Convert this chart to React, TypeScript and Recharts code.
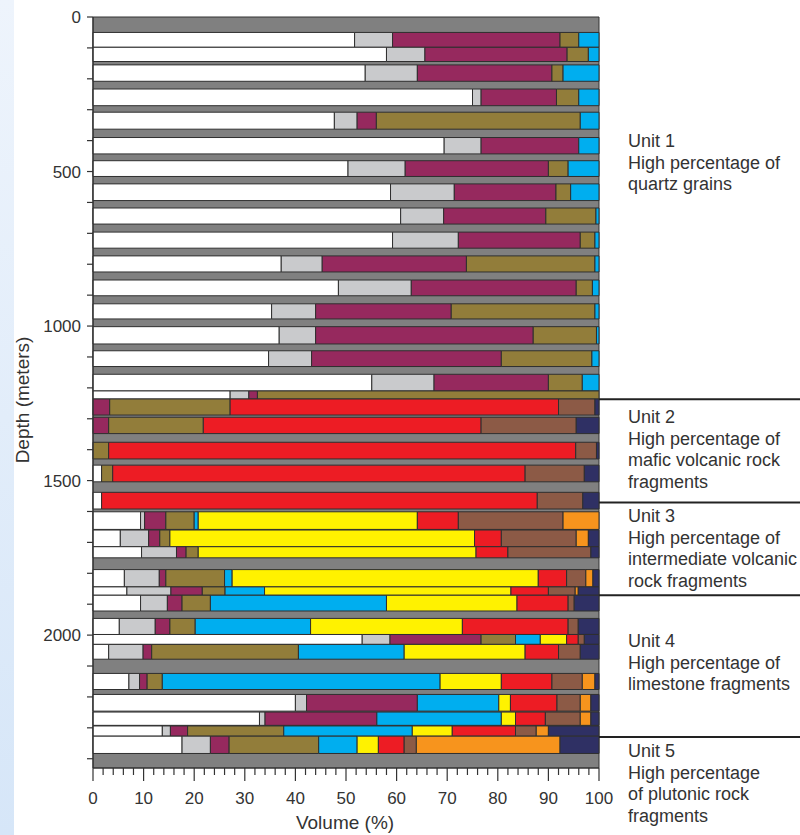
import { ComposedChart, XAxis, YAxis, ReferenceArea, ReferenceLine } from 'recharts';

// sample intervals (m), top to bottom
const DEPTH_TOP = [50, 98, 155, 233, 308, 390, 465, 540, 618, 696, 773, 851, 928, 1002, 1080, 1156, 1210, 1236, 1295, 1376, 1450, 1538, 1601, 1660, 1714, 1788, 1844, 1871, 1946, 1998, 2030, 2124, 2192, 2249, 2294, 2327];
const DEPTH_BOTTOM = [98, 144, 208, 287, 363, 443, 516, 594, 670, 748, 825, 902, 977, 1058, 1131, 1210, 1236, 1288, 1348, 1430, 1504, 1592, 1658, 1714, 1750, 1844, 1871, 1922, 1998, 2030, 2078, 2176, 2246, 2292, 2327, 2383];

// volume % of each component, one value per sample
const QUARTZ = [51.7, 58.0, 53.8, 75.0, 47.7, 69.4, 50.4, 58.8, 60.8, 59.2, 37.2, 48.5, 35.3, 36.8, 34.7, 55.1, 27.1, 0, 0, 0, 1.7, 1.7, 9.4, 5.4, 9.6, 6.2, 6.7, 9.4, 5.2, 53.2, 3.1, 7.1, 40.0, 32.9, 13.7, 17.6];
const LIGHT_GRAY = [7.5, 7.6, 10.3, 1.7, 4.5, 7.3, 11.3, 12.6, 8.5, 13.0, 8.1, 14.4, 8.7, 7.2, 8.5, 12.3, 3.7, 0, 0, 0, 0, 0, 0.8, 5.6, 6.9, 6.9, 8.7, 5.3, 7.1, 5.5, 6.8, 2.1, 2.2, 1.1, 1.6, 5.6];
const PLUM = [33.1, 28.1, 26.6, 14.9, 3.8, 19.3, 28.3, 20.1, 20.2, 24.1, 28.5, 32.6, 26.8, 43.0, 37.5, 22.6, 1.7, 3.3, 3.1, 0, 0, 0, 4.2, 2.2, 1.9, 1.3, 6.2, 2.9, 2.9, 18.0, 1.7, 1.5, 21.9, 22.1, 3.4, 3.7];
const OLIVE = [3.7, 4.2, 2.2, 4.4, 40.3, 0, 3.9, 2.9, 9.9, 2.9, 25.4, 3.2, 28.4, 12.5, 17.9, 6.7, 67.5, 23.8, 18.7, 3.1, 2.2, 0, 5.6, 2.0, 2.4, 11.6, 4.5, 5.6, 5.0, 6.8, 29.0, 3.0, 0, 0, 19.0, 17.7];
const LIMESTONE = [4.0, 2.1, 7.1, 4.0, 3.7, 4.0, 6.1, 5.6, 0.6, 0.8, 0.8, 1.3, 0.8, 0.5, 1.4, 3.3, 0, 0, 0, 0, 0, 0, 0.8, 0, 0, 1.5, 7.8, 34.8, 22.8, 4.9, 20.9, 54.9, 16.1, 24.6, 25.4, 7.6];
const INTERMEDIATE = [0, 0, 0, 0, 0, 0, 0, 0, 0, 0, 0, 0, 0, 0, 0, 0, 0, 0, 0, 0, 0, 0, 43.3, 60.2, 54.9, 60.5, 48.7, 25.8, 30.0, 5.2, 23.9, 12.1, 2.3, 2.8, 7.9, 4.2];
const MAFIC = [0, 0, 0, 0, 0, 0, 0, 0, 0, 0, 0, 0, 0, 0, 0, 0, 0, 64.9, 54.9, 92.3, 81.5, 86.1, 8.1, 5.3, 6.3, 5.6, 7.4, 10.1, 20.9, 2.3, 6.6, 10.0, 9.2, 5.9, 12.5, 5.1];
const BROWN = [0, 0, 0, 0, 0, 0, 0, 0, 0, 0, 0, 0, 0, 0, 0, 0, 0, 7.2, 18.8, 4.1, 11.7, 9.0, 20.7, 14.8, 16.4, 3.8, 5.3, 1.2, 2.0, 1.2, 4.3, 6.0, 4.6, 6.9, 4.1, 2.4];
const PLUTONIC = [0, 0, 0, 0, 0, 0, 0, 0, 0, 0, 0, 0, 0, 0, 0, 0, 0, 0, 0, 0, 0, 0, 7.1, 2.4, 0, 1.4, 0.6, 0, 0, 0, 0, 2.5, 2.1, 2.1, 2.4, 28.4];
const NAVY = [0, 0, 0, 0, 0, 0, 0, 0, 0, 0, 0, 0, 0, 0, 0, 0, 0, 0.8, 4.5, 0.5, 2.9, 3.2, 0, 2.1, 1.6, 1.2, 4.1, 4.9, 4.1, 2.9, 3.7, 0.8, 1.6, 1.6, 10.0, 7.7];

const COMPONENTS = [
  { values: QUARTZ, color: '#ffffff' },
  { values: LIGHT_GRAY, color: '#c9cacc' },
  { values: PLUM, color: '#96295e' },
  { values: OLIVE, color: '#927d3a' },
  { values: LIMESTONE, color: '#00aeef' },
  { values: INTERMEDIATE, color: '#fff200' },
  { values: MAFIC, color: '#ed1c24' },
  { values: BROWN, color: '#8c5a46' },
  { values: PLUTONIC, color: '#f7941d' },
  { values: NAVY, color: '#2f3064' },
];

const UNIT_BOUNDARIES = [1237, 1571, 1871, 2330];
const UNIT_LABELS = [
  { top: 131, lines: ['Unit 1', 'High percentage of', 'quartz grains'] },
  { top: 407, lines: ['Unit 2', 'High percentage of', 'mafic volcanic rock', 'fragments'] },
  { top: 506, lines: ['Unit 3', 'High percentage of', 'intermediate volcanic', 'rock fragments'] },
  { top: 631, lines: ['Unit 4', 'High percentage of', 'limestone fragments'] },
  { top: 741, lines: ['Unit 5', 'High percentage', 'of plutonic rock', 'fragments'] },
];

const MAX_DEPTH = 2430;
const X_TICKS = Array.from({ length: 51 }, (_, i) => i * 2);
const Y_TICKS = Array.from({ length: 25 }, (_, i) => i * 100);

const FONT = '"Liberation Sans", Arial, Helvetica, sans-serif';
const INK = '#333';

function VolumeTick({ x, y, payload }: any) {
  const major = payload.value % 10 === 0;
  return (
    <g>
      <line x1={x} x2={x} y1={y} y2={y + (major ? 13 : 7)} stroke={INK} strokeWidth={1.2} />
      {major && (
        <text x={x} y={y + 30} textAnchor="middle" dominantBaseline="central" fontSize={17} fill={INK} fontFamily={FONT}>
          {payload.value}
        </text>
      )}
    </g>
  );
}

export default function App() {
  const segments: { x1: number; x2: number; y1: number; y2: number; color: string; key: string }[] = [];
  DEPTH_TOP.forEach((top, i) => {
    let acc = 0;
    COMPONENTS.forEach((c, j) => {
      const v = c.values[i];
      if (!v) return;
      segments.push({ x1: acc, x2: Math.min(100, acc + v), y1: top, y2: DEPTH_BOTTOM[i], color: c.color, key: `${i}-${j}` });
      acc += v;
    });
  });

  return (
    <div style={{ position: 'fixed', left: 0, top: 0, width: 800, height: 835, background: '#fff', fontFamily: FONT, overflow: 'hidden' }}>
      <div style={{ position: 'absolute', left: 0, top: 0, width: 14, height: 835, background: 'linear-gradient(#eef4fc, #d6e6f8)' }} />
      <ComposedChart width={800} height={835} margin={{ top: 17, right: 201, bottom: 27, left: 33 }} style={{ position: 'absolute', left: 0, top: 0 }}>
        <XAxis
          type="number"
          dataKey="x"
          domain={[0, 100]}
          allowDataOverflow
          ticks={X_TICKS}
          interval={0}
          height={40}
          tickSize={0}
          tickMargin={0}
          tickLine={false}
          tick={<VolumeTick />}
          axisLine={{ stroke: INK, strokeWidth: 1.2 }}
        />
        <YAxis
          type="number"
          dataKey="y"
          domain={[0, MAX_DEPTH]}
          allowDataOverflow
          reversed
          ticks={Y_TICKS}
          interval={0}
          width={60}
          tickSize={6}
          tickMargin={6}
          tickFormatter={(v: number) => (v % 500 === 0 ? String(v) : '')}
          tick={{ fontSize: 17, fill: INK, fontFamily: FONT }}
          tickLine={{ stroke: INK, strokeWidth: 1.2 }}
          axisLine={{ stroke: INK, strokeWidth: 1.2 }}
        />
        <ReferenceArea x1={0} x2={100} y1={0} y2={MAX_DEPTH} fill="#808080" fillOpacity={1} stroke={INK} strokeWidth={1} />
        {segments.map(s => (
          <ReferenceArea
            key={s.key}
            x1={s.x1}
            x2={s.x2}
            y1={s.y1}
            y2={s.y2}
            fill={s.color}
            fillOpacity={1}
            stroke="#2f2f2f"
            strokeWidth={1}
          />
        ))}
        {UNIT_BOUNDARIES.map(d => (
          <ReferenceLine
            key={d}
            segment={[{ x: 100, y: d }, { x: 140, y: d }]}
            ifOverflow="visible"
            stroke="#222"
            strokeWidth={2}
          />
        ))}
      </ComposedChart>
      <div style={{ position: 'absolute', left: 23, top: 400, transform: 'translate(-50%, -50%) rotate(-90deg)', fontSize: 19, color: INK, whiteSpace: 'nowrap' }}>
        Depth (meters)
      </div>
      <div style={{ position: 'absolute', left: 345, top: 823, transform: 'translate(-50%, -50%)', fontSize: 19, color: INK, whiteSpace: 'nowrap' }}>
        Volume (%)
      </div>
      {UNIT_LABELS.map(u => (
        <div key={u.lines[0]} style={{ position: 'absolute', left: 628, top: u.top, fontSize: 18, lineHeight: '21.7px', color: INK, whiteSpace: 'nowrap' }}>
          {u.lines.map(l => <div key={l}>{l}</div>)}
        </div>
      ))}
    </div>
  );
}
